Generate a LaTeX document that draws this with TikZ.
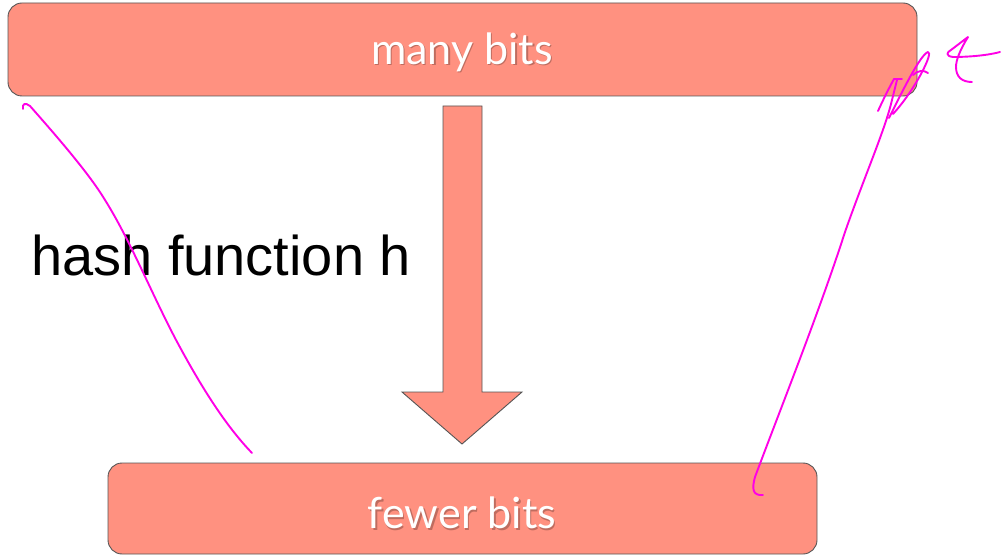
\documentclass[tikz,border=0pt]{standalone}
\usepackage{fontspec}
\setmainfont{Liberation Sans}
\newfontfamily\boxfont{Lato}
\begin{document}
\begin{tikzpicture}[x=1pt,y=-1pt,
  salmon/.style={fill=boxfill,draw=boxedge,line width=0.9pt},
  bitsbox/.style={salmon,rounded corners=14pt},
  boxlabel/.style={text=white,font=\boxfont\fontsize{43}{43}\selectfont},
  boxshadow/.style={text=black,opacity=0.25,font=\boxfont\fontsize{43}{43}\selectfont},
  ink/.style={draw=inkpink,line width=1.9pt,line cap=round,line join=round}]
\definecolor{boxfill}{HTML}{FF9180}
\definecolor{boxedge}{HTML}{555555}
\definecolor{inkpink}{HTML}{FF00E6}
\useasboundingbox (0,0) rectangle (1002,556);

% the two boxes
\draw[bitsbox] (8,3) rectangle (917,96);
\draw[bitsbox] (108,463) rectangle (817,554);
\node[boxshadow] (manyS) at (463.5,53.5) {many bits};
\node[boxlabel] (many) at (462,52) {many bits};
\node[boxshadow] (fewerS) at (463.5,514.5) {fewer bits};
\node[boxlabel] (fewer) at (462,513) {fewer bits};

% block arrow between them
\draw[salmon,line join=miter] (443,106) -- (482,106) -- (482,392) -- (522,392)
  -- (462,444) -- (402,392) -- (443,392) -- cycle;

% label
\node[anchor=base west,font=\fontsize{56}{56}\selectfont,inner sep=0pt] (hash) at (31,276) {hash function h};

% handwritten strokes
\draw[ink] (23,109) .. controls (22,104) and (25,102) .. (30,106)
  .. controls (60,140) and (90,175) .. (105,200)
  .. controls (130,240) and (150,290) .. (175,338)
  .. controls (200,385) and (225,425) .. (252,453);
\draw[ink] (763,495) .. controls (752,496) and (752,488) .. (755,477)
  .. controls (780,410) and (820,310) .. (845,232)
  .. controls (865,175) and (885,130) .. (892,100)
  -- (897,80);
\draw[ink] (878,111) .. controls (884,98) and (889,88) .. (894,79) -- (902,79);
\draw[ink] (889,118) .. controls (902,92) and (920,55) .. (928,52)
  .. controls (934,52) and (915,90) .. (893,114);
\draw[ink] (913,75) .. controls (918,70) and (924,70) .. (928,73);
\draw[ink] (1000,52) .. controls (985,56) and (965,57) .. (953,57)
  .. controls (945,56) and (947,52) .. (951,50) -- (968,37)
  .. controls (960,50) and (956,60) .. (956,67)
  .. controls (956,77) and (962,82) .. (972,82);
\end{tikzpicture}
\end{document}
